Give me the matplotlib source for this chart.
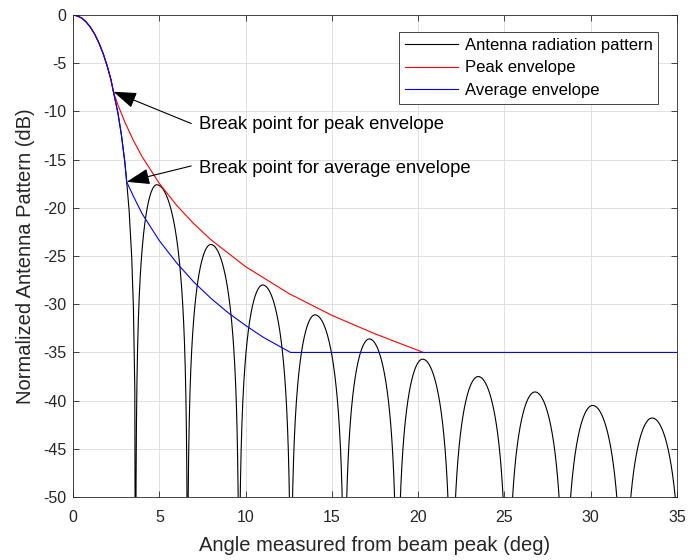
import matplotlib
matplotlib.use("Agg")
import matplotlib.pyplot as plt
import numpy as np

plt.rcParams["font.family"] = ["Liberation Sans", "DejaVu Sans"]
plt.rcParams["axes.unicode_minus"] = False

# main beam, shared by the pattern and both envelopes (deg, dB)
beam_angle = [0, 0.25, 0.5, 0.75, 1.0, 1.25, 1.5, 1.75, 2.0, 2.2, 2.34, 2.6, 2.8, 3.0, 3.11]
beam_db = [0, -0.08, -0.3, -0.69, -1.24, -1.96, -2.88, -4.01, -5.4, -6.72, -7.95, -10.14, -12.39, -15.22, -17.3]

# rest of the main lobe down to the first null
beam_tail_angle = [3.25, 3.4, 3.5, 3.58, 3.63]
beam_tail_db = [-20.27, -25.1, -30.4, -38.9, -80]

# sidelobes: nulls, peak positions and peak levels
null_angle = [3.63, 6.63, 9.62, 12.62, 15.72, 18.79, 21.93, 25.18, 28.48, 31.9, 35.35]
lobe_peak_angle = [4.85, 7.98, 10.99, 14.02, 17.17, 20.26, 23.48, 26.77, 30.11, 33.56]
lobe_peak_db = [-17.6, -23.8, -28.0, -31.1, -33.6, -35.7, -37.5, -39.1, -40.5, -41.8]

# peak envelope after its break point
peak_break = 2.34
peak_env_angle = [2.6, 3, 3.5, 4, 5, 6, 7, 8, 10, 12.5, 15, 17.5, 20.3]
peak_env_db = [-9.31, -11.09, -13.01, -14.68, -17.46, -19.73, -21.65, -23.32, -26.1, -28.88, -31.15, -33.07, -35.0]

# average envelope after its break point
avg_break = 3.11
avg_env_angle = [3.5, 4, 5, 6, 7, 8, 9, 10, 11, 12.6, 35]
avg_env_db = [-18.8, -20.6, -23.4, -25.7, -27.7, -29.4, -30.9, -32.2, -33.4, -35.0, -35.0]

# build the pattern trace: main lobe, then each sidelobe separated by NaN
pat_x = list(beam_angle) + beam_tail_angle
pat_y = list(beam_db) + beam_tail_db
for i in range(len(lobe_peak_angle)):
    a, p, b = null_angle[i], lobe_peak_angle[i], null_angle[i + 1]
    th = np.linspace(a, b, 400)
    phi = np.where(th <= p, (th - a) / (p - a) * np.pi / 2,
                   np.pi / 2 + (th - p) / (b - p) * np.pi / 2)
    lvl = lobe_peak_db[i] + 20 * np.log10(np.maximum(np.sin(phi), 1e-4))
    pat_x += [np.nan] + list(th)
    pat_y += [np.nan] + list(lvl)

ib = beam_angle.index(peak_break)
peak_x = beam_angle[:ib + 1] + peak_env_angle
peak_y = beam_db[:ib + 1] + peak_env_db
ia = beam_angle.index(avg_break)
avg_x = beam_angle[:ia + 1] + avg_env_angle
avg_y = beam_db[:ia + 1] + avg_env_db

fig = plt.figure(figsize=(6.89, 5.60), dpi=100)
ax = fig.add_axes([0.106, 0.1125, 0.8766, 0.8605])

ax.plot(pat_x, pat_y, color="black", lw=0.8, label="Antenna radiation pattern")
ax.plot(peak_x, peak_y, color="#ff0000", lw=0.8, label="Peak envelope")
ax.plot(avg_x, avg_y, color="#0000ff", lw=0.8, label="Average envelope")

ax.set_xlim(0, 35)
ax.set_ylim(-50, 0)
ax.set_xticks(np.arange(0, 36, 5))
ax.set_yticks(np.arange(-50, 1, 5))
ax.grid(True, color="#dcdcdc", lw=0.6)
ax.set_axisbelow(True)
ax.tick_params(direction="in", top=True, right=True, length=4.5, width=0.6,
               color="#262626", labelcolor="#262626", labelsize=11.5)
ax.tick_params(axis="x", pad=9.5)
ax.tick_params(axis="y", pad=5)
for s in ax.spines.values():
    s.set_color("#262626")
    s.set_linewidth(0.6)

ax.set_xlabel("Angle measured from beam peak (deg)", fontsize=14.5, color="#262626", labelpad=8)
ax.set_ylabel("Normalized Antenna Pattern (dB)", fontsize=14.5, color="#262626", labelpad=6)

leg = ax.legend(loc="upper right", bbox_to_anchor=(0.983, 0.982), fontsize=12,
                handlelength=3.2, handletextpad=0.4, labelspacing=0.45,
                borderpad=0.35, fancybox=False, framealpha=1, edgecolor="#262626")
leg.get_frame().set_linewidth(0.6)

arrow = dict(arrowstyle="-|>,head_length=1.3,head_width=0.45", color="black",
             lw=0.8, shrinkA=0, shrinkB=0, mutation_scale=11)
ax.annotate("", xy=(peak_break, beam_db[ib]), xytext=(6.85, -11.25), arrowprops=arrow)
ax.annotate("", xy=(avg_break, beam_db[ia]), xytext=(6.85, -15.65), arrowprops=arrow)
ax.text(7.3, -11.4, "Break point for peak envelope", fontsize=13.3, va="center", ha="left")
ax.text(7.3, -15.9, "Break point for average envelope", fontsize=13.3, va="center", ha="left")

fig.savefig("out.png", dpi=100)
